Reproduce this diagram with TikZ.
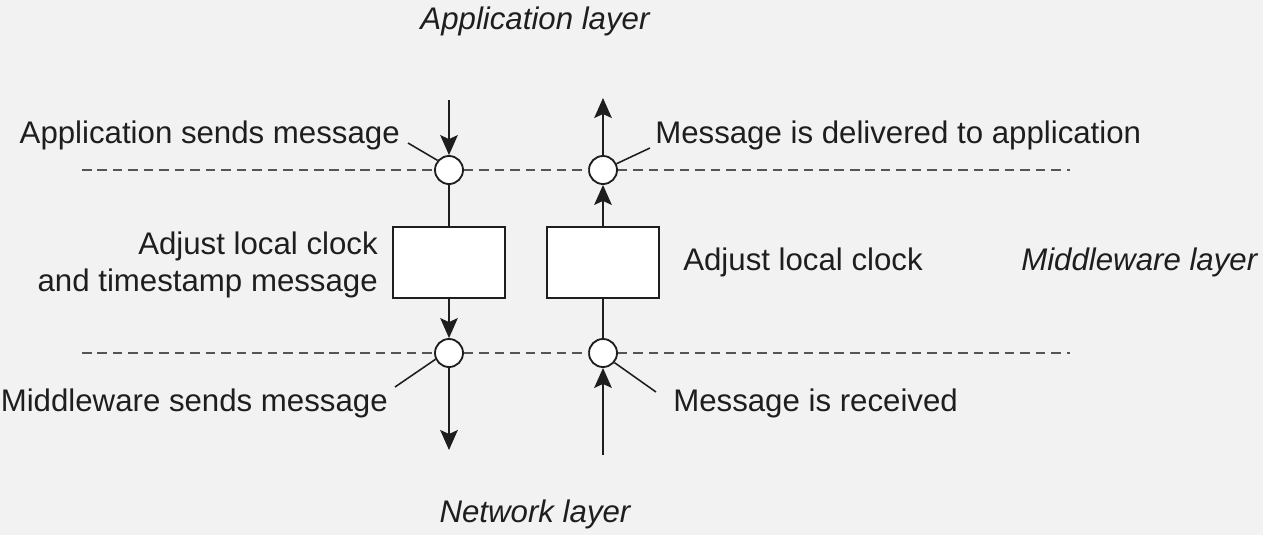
\documentclass[tikz,border=0pt]{standalone}
\usepackage{fontspec}
\setmainfont{Liberation Sans}
\usetikzlibrary{arrows.meta,positioning}

\definecolor{bggray}{RGB}{242,242,242}
\definecolor{ink}{RGB}{30,30,30}
\definecolor{dashgray}{RGB}{85,85,85}

\tikzstyle{event} = [draw=ink, circle, minimum size=.7cm, inner sep=0pt,
    fill=white, line width=1.3pt]
\tikzstyle{stagebox} = [draw=ink, rectangle, minimum width=2.8cm,
    minimum height=1.775cm, inner sep=0pt, fill=white, line width=1pt]
\tikzstyle{txt} = [inner sep=0pt, text=ink, font=\fontsize{22.2}{26.5}\selectfont]
\tikzstyle{layername} = [txt, font=\fontsize{22.2}{26.5}\selectfont\itshape]
\tikzstyle{flow} = [draw=ink, line width=1.1pt,
    -{Stealth[length=5mm, width=4.4mm, inset=1mm]}]
\tikzstyle{wire} = [draw=ink, line width=1.1pt]
\tikzstyle{boundary} = [draw=dashgray, line width=1.2pt, dash pattern=on 6.8pt off 4.2pt]

\begin{document}
\begin{tikzpicture}[x=0.025cm, y=-0.025cm]
  \fill[bggray] (0,0) rectangle (1263,535);
  \useasboundingbox (0,0) rectangle (1263,535);

  % the two columns
  \node (sendtop) [event] at (449,170) {};
  \node (sendbot) [event] at (449,353) {};
  \node (delivertop) [event] at (603,170) {};
  \node (recvbot) [event] at (603,353) {};
  \node (stampbox) [stagebox] at (449,262.5) {};
  \node (adjustbox) [stagebox] at (603,262.5) {};

  \coordinate (topL) at (82,170);
  \coordinate (topR) at (1070,170);
  \coordinate (botL) at (82,353);
  \coordinate (botR) at (1070,353);
  \coordinate (appin) at (449,100);
  \coordinate (appout) at (603,98);
  \coordinate (netout) at (449,450);
  \coordinate (netin) at (603,455);

  % layer boundaries
  \draw [boundary] (topL) -- (sendtop);
  \draw [boundary] (sendtop) -- (delivertop);
  \draw [boundary] (delivertop) -- (topR);
  \draw [boundary] (botL) -- (sendbot);
  \draw [boundary] (sendbot) -- (recvbot);
  \draw [boundary] (recvbot) -- (botR);

  % message path
  \draw [flow] (appin) -- (sendtop);
  \draw [wire] (sendtop) -- (stampbox);
  \draw [flow] (stampbox) -- (sendbot);
  \draw [flow] (sendbot) -- (netout);
  \draw [flow] (netin) -- (recvbot);
  \draw [wire] (recvbot) -- (adjustbox);
  \draw [flow] (adjustbox) -- (delivertop);
  \draw [flow] (delivertop) -- (appout);

  % labels
  \node (applayer) [layername, anchor=base] at (535,29) {Application layer};
  \node (midlayer) [layername, anchor=base west] at (1021,270) {Middleware layer};
  \node (netlayer) [layername, anchor=base] at (535,522) {Network layer};

  \node (sendtxt) [txt, anchor=base east] at (400,143) {Application sends message};
  \node (delivtxt) [txt, anchor=base west] at (655,143) {Message is delivered to application};
  \node (stamptxt) [txt, align=right, anchor=east] at (378,265)
    {Adjust local clock\\and timestamp message};
  \node (adjusttxt) [txt, anchor=base west] at (683,270) {Adjust local clock};
  \node (midtxt) [txt, anchor=base east] at (388,411) {Middleware sends message};
  \node (recvtxt) [txt, anchor=base west] at (673,411) {Message is received};

  % leaders
  \coordinate (sendlead) at (408,143);
  \coordinate (delivlead) at (650,148);
  \coordinate (midlead) at (395,387);
  \coordinate (recvlead) at (656,392);
  \draw [wire] (sendtop.140) -- (sendlead);
  \draw [wire] (delivertop.25) -- (delivlead);
  \draw [wire] (sendbot.205) -- (midlead);
  \draw [wire] (recvbot.-40) -- (recvlead);
\end{tikzpicture}
\end{document}
